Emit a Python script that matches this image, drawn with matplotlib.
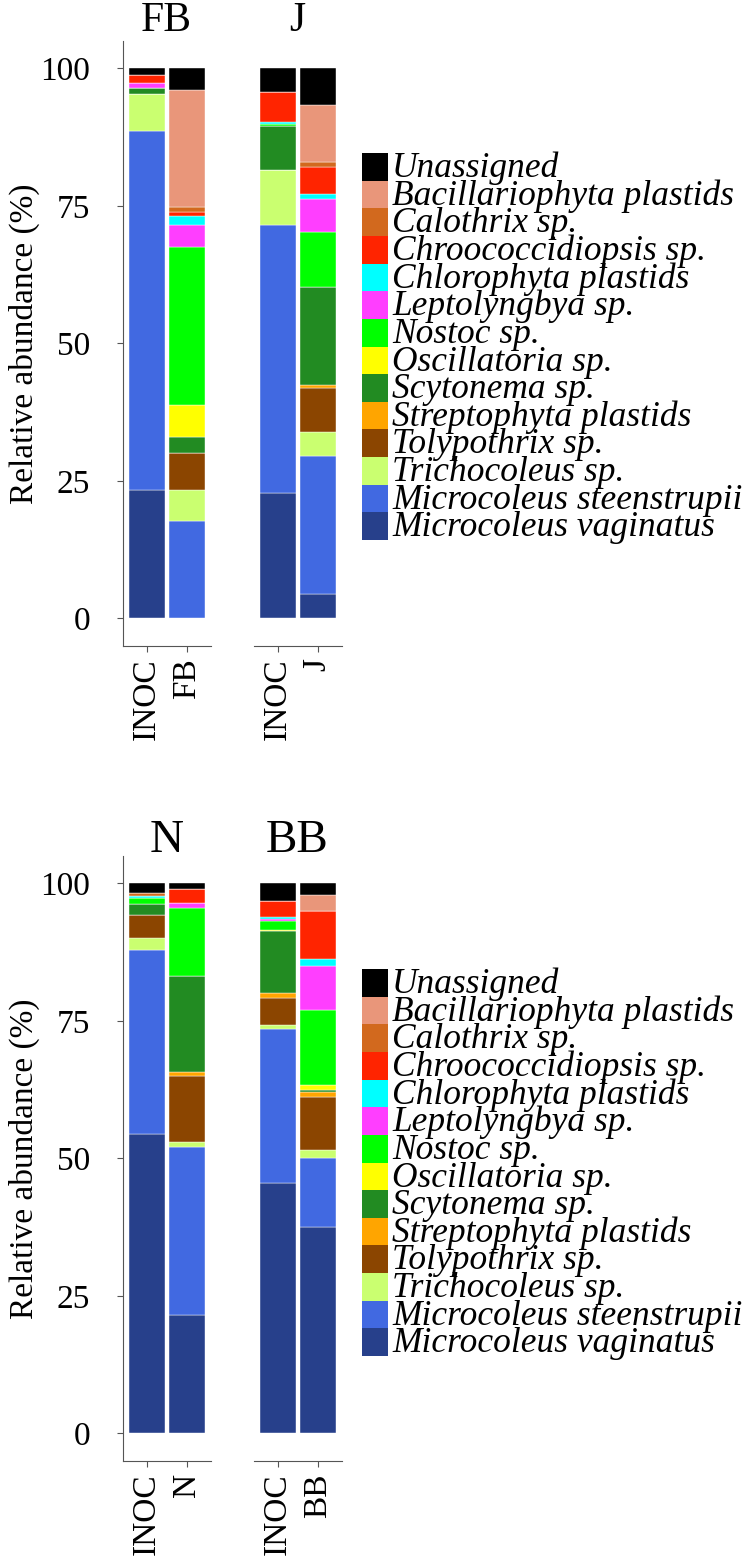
import matplotlib
matplotlib.use("Agg")
import matplotlib.pyplot as plt
from matplotlib.patches import Rectangle

plt.rcParams['font.family'] = ['Liberation Serif', 'DejaVu Serif']

# species, bottom of the stack first
species = ["Microcoleus vaginatus", "Microcoleus steenstrupii", "Trichocoleus sp.",
           "Tolypothrix sp.", "Streptophyta plastids", "Scytonema sp.",
           "Oscillatoria sp.", "Nostoc sp.", "Leptolyngbya sp.",
           "Chlorophyta plastids", "Chroococcidiopsis sp.", "Calothrix sp.",
           "Bacillariophyta plastids", "Unassigned"]
colors = ["#27408B", "#4169E1", "#CAFF70", "#8B4500", "#FFA500", "#228B22",
          "#FFFF00", "#00FF00", "#FF3EFF", "#00FFFF", "#FF2400", "#D2691E",
          "#E9967A", "#000000"]

# samples: FB INOC, FB, J INOC, J, N INOC, N, BB INOC, BB
samples = ["INOC", "FB", "INOC", "J", "INOC", "N", "INOC", "BB"]
sites = ["FB", "J", "N", "BB"]

vaginatus     = [23.3,  0.0, 22.7,  4.4, 54.5, 21.5, 45.6, 37.6]
steenstrupii  = [65.3, 17.7, 48.8, 25.1, 33.4, 30.5, 28.0, 12.4]
trichocoleus  = [ 6.8,  5.6, 10.0,  4.4,  2.2,  0.9,  0.6,  1.6]
tolypothrix   = [ 0.0,  6.8,  0.0,  7.9,  4.1, 12.0,  5.0,  9.5]
streptophyta  = [ 0.0,  0.0,  0.0,  0.6,  0.0,  0.8,  0.8,  0.9]
scytonema     = [ 1.0,  2.9,  8.0, 17.8,  2.0, 17.5, 11.3,  0.5]
oscillatoria  = [ 0.0,  5.8,  0.0,  0.0,  0.0,  0.0,  0.2,  0.8]
nostoc        = [ 0.0, 28.8,  0.4, 10.0,  1.1, 12.3,  1.6, 13.7]
leptolyngbya  = [ 0.9,  4.0,  0.0,  6.0,  0.0,  1.0,  0.5,  8.0]
chlorophyta   = [ 0.0,  1.5,  0.4,  1.0,  0.4,  0.0,  0.3,  1.2]
chroococcid   = [ 1.5,  0.7,  5.4,  4.9,  0.0,  2.4,  2.8,  8.8]
calothrix     = [ 0.0,  1.0,  0.0,  0.8,  0.6,  0.0,  0.0,  0.0]
bacillario    = [ 0.0, 21.2,  0.0, 10.4,  0.0,  0.0,  0.0,  2.9]
unassigned    = [ 1.2,  4.0,  4.3,  6.7,  1.7,  1.1,  3.3,  2.1]

abund = [vaginatus, steenstrupii, trichocoleus, tolypothrix, streptophyta,
         scytonema, oscillatoria, nostoc, leptolyngbya, chlorophyta,
         chroococcid, calothrix, bacillario, unassigned]

W, H = 750, 1565
fig = plt.figure(figsize=(W / 100, H / 100), dpi=100)


def px_axes(left, top, right, bottom):
    return fig.add_axes([left / W, 1 - bottom / H, (right - left) / W, (bottom - top) / H])


spine_col = "#555555"
# top px, bottom px, which sites, title baseline px, title size
panels = [(40.8, 645.8, [0, 1], 31, 30), (855.8, 1460.8, [2, 3], 852, 34)]
facet_x = [(122.5, 210.5), (253.5, 341.5)]

for top, bottom, site_idx, t_base, t_size in panels:
    for k, s in enumerate(site_idx):
        left, right = facet_x[k]
        ax = px_axes(left, top, right, bottom)
        cols = [2 * s, 2 * s + 1]
        base = [0.0, 0.0]
        for sp, col, vals in zip(species, colors, abund):
            h = [vals[c] for c in cols]
            ax.bar([1, 2], h, bottom=base, width=0.9, color=col,
                   edgecolor="white", linewidth=0.3)
            base = [base[0] + h[0], base[1] + h[1]]
        ax.set_xlim(0.4, 2.6)
        ax.set_ylim(-5, 105)
        ax.set_xticks([1, 2])
        ax.set_xticklabels([samples[c] for c in cols], rotation=90, fontsize=24)
        ax.tick_params(axis='x', length=4, width=0.8, color=spine_col, pad=5)
        for sp_name in ["top", "right"]:
            ax.spines[sp_name].set_visible(False)
        ax.spines["bottom"].set_color(spine_col)
        ax.spines["bottom"].set_linewidth(0.8)
        if k == 0:
            ax.set_yticks([0, 25, 50, 75, 100])
            ax.tick_params(axis='y', length=4.3, width=0.8, color=spine_col,
                           pad=19, labelsize=24)
            ax.spines["left"].set_color(spine_col)
            ax.spines["left"].set_linewidth(0.8)
        else:
            ax.spines["left"].set_visible(False)
            ax.set_yticks([])
        fig.text((left + right) / 2 / W, 1 - t_base / H, sites[s],
                 ha='center', va='baseline', fontsize=t_size)

    fig.text(24 / W, 1 - (top + bottom) / 2 / H, "Relative abundance (%)",
             rotation=90, ha='center', va='center', fontsize=24)

# legends
for ltop in [153, 969]:
    lax = px_axes(362, ltop, 750, ltop + 387)
    lax.set_xlim(0, 388)
    lax.set_ylim(14, 0)
    lax.axis('off')
    for i, (sp, col) in enumerate(zip(species[::-1], colors[::-1])):
        lax.add_patch(Rectangle((0, i), 26, 1, facecolor=col, edgecolor='none'))
        lax.text(30, i + 0.87, sp, va='baseline', ha='left', fontsize=25.5,
                 style='italic', clip_on=False)

plt.savefig('out.png', dpi=100)
